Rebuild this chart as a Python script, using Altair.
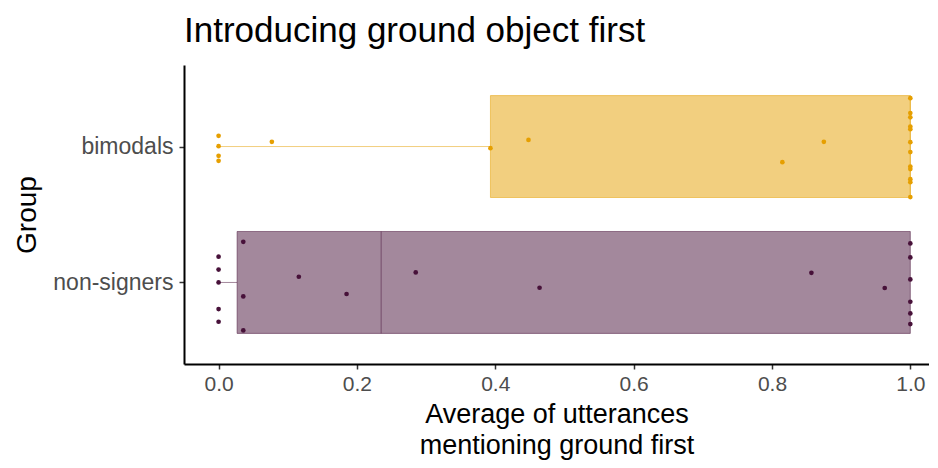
import altair as alt
import pandas as pd
import numpy as np

groups = ["bimodals", "non-signers"]
group_pos = {"bimodals": 2, "non-signers": 1}
colors = {"bimodals": "#E69F00", "non-signers": "#471139"}

bimodal_vals = [0.0, 0.0, 0.0, 0.0, 0.077, 0.393, 0.448, 0.875, 0.815,
                1.0, 1.0, 1.0, 1.0, 1.0, 1.0, 1.0, 1.0, 1.0, 1.0, 1.0, 1.0]
bimodal_jit = [0.079, 0.003, -0.068, -0.105, 0.035, -0.012, 0.049, 0.035, -0.115,
               0.356, 0.246, 0.215, 0.147, 0.128, 0.032, -0.041, -0.147, -0.166, -0.240, -0.262, -0.372]

nonsigner_vals = [0.0, 0.0, 0.0, 0.0, 0.0, 0.0357, 0.0357, 0.0357, 0.116, 0.185,
                  0.285, 0.464, 0.857, 0.963, 1.0, 1.0, 1.0, 1.0, 1.0, 1.0]
nonsigner_jit = [0.190, 0.095, 0.0, -0.196, -0.289, 0.299, -0.103, -0.353, 0.042, -0.085,
                 0.074, -0.039, 0.071, -0.041, 0.287, 0.184, 0.022, -0.142, -0.228, -0.306]

rows = []
for g, vals, jit in [("bimodals", bimodal_vals, bimodal_jit), ("non-signers", nonsigner_vals, nonsigner_jit)]:
    for v, j in zip(vals, jit):
        rows.append({"group": g, "value": v, "y": group_pos[g] + j})
pts = pd.DataFrame(rows)

stats = []
for g, vals in [("bimodals", bimodal_vals), ("non-signers", nonsigner_vals)]:
    a = np.array(vals)
    q1, med, q3 = np.quantile(a, [0.25, 0.5, 0.75])
    iqr = q3 - q1
    lo = a[a >= q1 - 1.5 * iqr].min()
    hi = a[a <= q3 + 1.5 * iqr].max()
    p = group_pos[g]
    stats.append({"group": g, "q1": q1, "median": med, "q3": q3, "lower": lo, "upper": hi,
                  "yc": p, "ylo": p - 0.375, "yhi": p + 0.375})
st = pd.DataFrame(stats)

FONT = "Liberation Sans"
color_scale = alt.Scale(domain=groups, range=[colors[g] for g in groups])
xscale = alt.Scale(domain=[-0.05, 1.027], nice=False, zero=False)
yscale = alt.Scale(domain=[0.4, 2.6], nice=False, zero=False)

xaxis = alt.Axis(values=[0, 0.2, 0.4, 0.6, 0.8, 1.0], format=".1f", grid=False,
                 title=["Average of utterances", "mentioning ground first"],
                 labelFontSize=21, labelColor="#4D4D4D", labelFont=FONT,
                 titleFontSize=27, titleFont=FONT, titleFontWeight="normal",
                 titleColor="black", titleLineHeight=31,
                 tickColor="#333333", tickSize=5, domainColor="black",
                 domainWidth=2, tickWidth=1.5, labelPadding=4, titlePadding=7)
yaxis = alt.Axis(values=[1, 2], grid=False, title="Group",
                 labelExpr="datum.value == 2 ? 'bimodals' : 'non-signers'",
                 labelFontSize=23, labelColor="#4D4D4D", labelFont=FONT,
                 titleFontSize=28, titleFont=FONT, titleFontWeight="normal",
                 titleColor="black", tickColor="#333333", tickSize=5, domainColor="black",
                 domainWidth=2, tickWidth=1.5, labelPadding=6, titlePadding=11)

base_st = alt.Chart(st)

whisk_lo = base_st.mark_rule(strokeWidth=1, opacity=0.5).encode(
    x=alt.X("lower:Q", scale=xscale, axis=xaxis),
    x2="q1:Q",
    y=alt.Y("yc:Q", scale=yscale, axis=yaxis),
    color=alt.Color("group:N", scale=color_scale, legend=None),
)
whisk_hi = base_st.mark_rule(strokeWidth=1, opacity=0.5).encode(
    x=alt.X("q3:Q", scale=xscale), x2="upper:Q",
    y=alt.Y("yc:Q", scale=yscale),
    color=alt.Color("group:N", scale=color_scale, legend=None),
)
boxes = base_st.mark_rect(fillOpacity=0.5, strokeOpacity=0.5, strokeWidth=1).encode(
    x=alt.X("q1:Q", scale=xscale), x2="q3:Q",
    y=alt.Y("ylo:Q", scale=yscale), y2="yhi:Q",
    fill=alt.Fill("group:N", scale=color_scale, legend=None),
    stroke=alt.Stroke("group:N", scale=color_scale, legend=None),
)
medians = base_st.mark_rule(strokeWidth=1, opacity=0.5).encode(
    x=alt.X("median:Q", scale=xscale),
    y=alt.Y("ylo:Q", scale=yscale), y2="yhi:Q",
    color=alt.Color("group:N", scale=color_scale, legend=None),
)
points = alt.Chart(pts).mark_circle(size=22, opacity=1).encode(
    x=alt.X("value:Q", scale=xscale),
    y=alt.Y("y:Q", scale=yscale),
    color=alt.Color("group:N", scale=color_scale, legend=None),
)

chart = alt.layer(whisk_lo, whisk_hi, boxes, medians, points).properties(
    width=745, height=299,
    title=alt.TitleParams("Introducing ground object first", anchor="start", frame="group",
                          fontSize=35, font=FONT, fontWeight="normal", color="black", offset=16),
    autosize=alt.AutoSizeParams(type="none"),
    padding={"left": 176, "top": 57, "right": 0, "bottom": 96},
).configure_view(stroke=None)

chart.save("out.html", embed_options={"renderer": "svg", "actions": False})
